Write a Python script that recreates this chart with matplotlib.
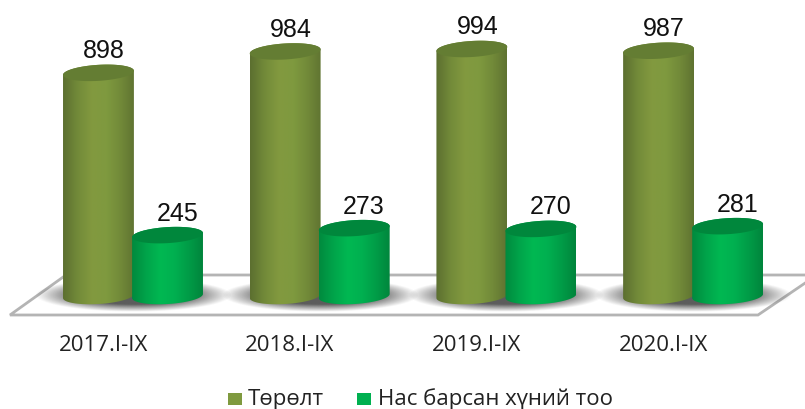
import numpy as np
import matplotlib
matplotlib.use("Agg")
import matplotlib.pyplot as plt
from matplotlib.colors import LinearSegmentedColormap
from matplotlib.patches import Polygon, Rectangle

# data
periods = ["2017.I-IX", "2018.I-IX", "2019.I-IX", "2020.I-IX"]
births = [898, 984, 994, 987]
deaths = [245, 273, 270, 281]
series_names = ["Төрөлт", "Нас барсан хүний тоо"]

W, H = 805, 409
FONT = "Open Sans"

fig = plt.figure(figsize=(W / 100, H / 100), dpi=100, facecolor="white")

# background layer in pixels: floor + shadows + legend
bg = fig.add_axes([0, 0, 1, 1])
bg.set_xlim(0, W)
bg.set_ylim(H, 0)
bg.axis("off")

bg.add_patch(Polygon([(10, 315), (758, 315), (817, 275), (66, 275)],
                     closed=True, fc="white", ec="#b4b4b4", lw=2))

# soft shadow under each pair of bars
xx, yy = np.meshgrid(np.linspace(-1, 1, 240), np.linspace(-1, 1, 60))
shadow = np.clip(1 - np.sqrt(xx**2 + yy**2), 0, 1)
shadow = np.clip(shadow / 0.45, 0, 1)
rgba = np.zeros(shadow.shape + (4,))
rgba[..., :3] = 0.2
rgba[..., 3] = shadow * 0.8

# bars layer: x = category, y = value
ax = fig.add_axes([0, 0, 1, 1], facecolor="none")
step = 186.7
px_x0 = 133
base_px = 296
per_unit = 0.2485
ax.set_xlim(-px_x0 / step, (W - px_x0) / step)
ax.set_ylim(-(H - base_px) / per_unit, base_px / per_unit)
ax.axis("off")

half_w = 35.5
half_h = 8.0
tilt = np.radians(3.5)


def ellipse_pts(xc, val, t):
    # ellipse is round in pixels, so build in px then go to data units
    dx = half_w * np.cos(t) * np.cos(tilt) - half_h * np.sin(t) * np.sin(tilt)
    dy = half_w * np.cos(t) * np.sin(tilt) + half_h * np.sin(t) * np.cos(tilt)
    return np.column_stack([xc + dx / step, val + dy / per_unit])


def cylinder(xc, val, cmap, top_color, z):
    low = ellipse_pts(xc, 0, np.linspace(np.pi, 2 * np.pi, 60))
    high = ellipse_pts(xc, val, np.linspace(0, np.pi, 60))
    body = Polygon(np.vstack([low, high]), closed=True, fc="none", ec="none",
                   transform=ax.transData)
    ax.add_patch(body)
    x0, x1 = xc - half_w / step, xc + half_w / step
    im = ax.imshow(np.linspace(0, 1, 128).reshape(1, -1), cmap=cmap, aspect="auto",
                   extent=(x0, x1, -12 / per_unit, val + 12 / per_unit), zorder=z)
    im.set_clip_path(body)
    cap = ellipse_pts(xc, val, np.linspace(0, 2 * np.pi, 120))
    ax.add_patch(Polygon(cap, closed=True, fc=top_color, ec="none", zorder=z + 0.1))


olive_map = LinearSegmentedColormap.from_list(
    "olive", ["#5c6f30", "#728a39", "#82993f", "#7f9a3f", "#728a39", "#5f7331"])
green_map = LinearSegmentedColormap.from_list(
    "green", ["#008a3e", "#00a44a", "#00b852", "#00b050", "#009c47", "#00853c"])

offset = 0.185
for i in range(len(periods)):
    cx = px_x0 + i * step
    bg.imshow(rgba, extent=(cx - 98, cx + 98, 312, 278), aspect="auto", zorder=2)

    cylinder(i - offset, births[i], olive_map, "#647d33", 3)
    cylinder(i + offset, deaths[i], green_map, "#00873c", 4)

    ax.annotate(str(births[i]), (i - offset, births[i]), xytext=(4, 15.5),
                textcoords="offset points", ha="center", va="center",
                fontsize=18, family="Liberation Sans", color="#111111", zorder=6)
    ax.annotate(str(deaths[i]), (i + offset, deaths[i]), xytext=(7, 15.5),
                textcoords="offset points", ha="center", va="center",
                fontsize=18, family="Liberation Sans", color="#111111", zorder=6)
    ax.annotate(periods[i], (i, 0), xytext=(-21.5, -35.5),
                textcoords="offset points", ha="center", va="center",
                fontsize=16, family=FONT, color="#222222")

bg.set_xlim(0, W)
bg.set_ylim(H, 0)

# legend
bg.add_patch(Rectangle((228, 393), 14, 12, fc="#7f9a3f", ec="none"))
bg.text(248, 399, series_names[0], fontsize=16, family=FONT, color="#222222",
        va="center", ha="left")
bg.add_patch(Rectangle((357, 393), 14, 12, fc="#00b050", ec="none"))
bg.text(378, 399, series_names[1], fontsize=16, family=FONT, color="#222222",
        va="center", ha="left")

fig.savefig("out.png", dpi=100)
